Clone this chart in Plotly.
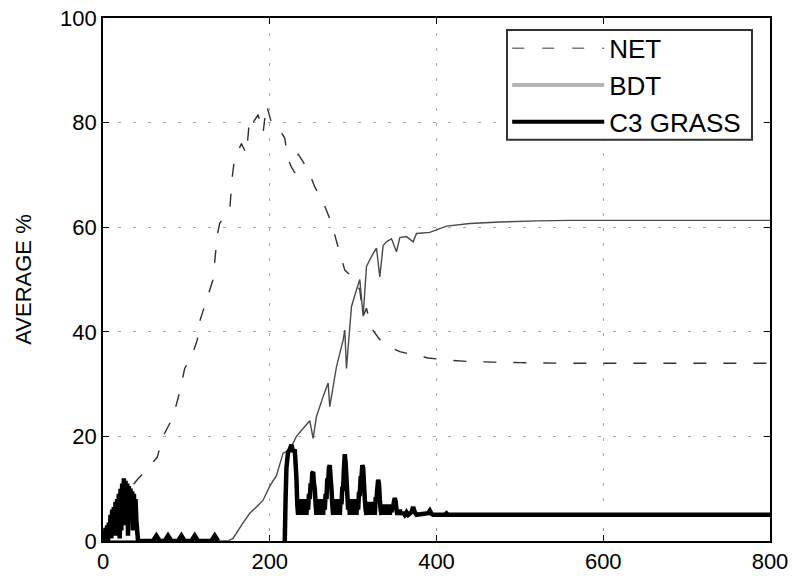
import plotly.graph_objects as go

# Needleleaf evergreen trees (NET)
net_x = [0, 10, 20, 30, 41, 52, 65, 72, 84, 92, 98, 107, 113, 116, 124,
         132, 137, 140, 146, 152, 155, 158, 162, 166, 172, 176, 180, 186, 190, 192,
         196, 202, 208, 212, 218, 222, 226, 230, 234, 240, 246, 254, 260, 266, 274,
         282, 290, 302, 308, 312, 316, 322, 332, 345, 356, 372, 390, 412, 440, 470,
         500, 550, 600, 650, 700, 750, 800]
net_y = [1, 4, 7, 9.5, 11.7, 13.6, 16, 20, 23.7, 28.5, 33, 35.6, 38.4, 42, 46,
         50, 58.5, 60.8, 62, 63.3, 69.6, 73.4, 74.5, 76, 74, 81, 80, 81.5, 79, 78,
         83.4, 80, 79.5, 78.6, 77, 73, 71.5, 70.4, 74, 72.5, 71, 67.7, 66, 64, 60.8,
         56.2, 51.8, 50, 48, 43, 44.5, 40.7, 38.5, 37, 36.2, 35.6, 35, 34.6, 34.3, 34.2,
         34.1, 34.0, 34.0, 34.0, 34.0, 34.0, 34.0]

# Broadleaf deciduous trees (BDT)
bdt_x = [0, 150, 156, 166, 176, 184, 192, 200, 208, 216, 224, 232, 240, 248, 252,
         256, 264, 270, 272, 280, 288, 290, 292, 298, 304, 308, 312, 316, 324, 328,
         332, 336, 340, 346, 352, 356, 364, 372, 376, 392, 412, 440, 476, 520, 560,
         600, 700, 800]
bdt_y = [0, 0, 0.5, 3, 5.3, 6.5, 7.8, 10.5, 12.5, 16.8, 17.4, 20, 21.5, 23, 19.6,
         23.8, 27.6, 30.2, 25.7, 33.3, 38.4, 40.3, 33, 44.8, 48, 50, 43, 52.5, 55, 56,
         50.5, 56.5, 57.2, 57.8, 55.3, 58, 58.2, 57.2, 58.8, 59, 60.2, 60.7, 61, 61.2, 61.3,
         61.3, 61.3, 61.3]

# C3 grass: early establishment burst, small flickers, then the oscillating phase
grass_early_x = [0, 1, 2, 3, 4, 5, 6, 7, 8, 9, 10, 11, 12, 13, 14, 15, 16, 17, 18, 19, 20,
                 21, 22, 23, 24, 25, 26, 27, 28, 29, 30, 31, 32, 33, 34, 35, 36, 37, 38, 39,
                 40, 41, 42, 60, 64, 68, 74, 78, 82, 90, 94, 98, 106, 110, 114, 130, 134, 138]
grass_early_y = [0, 1.5, 0, 2.5, 0.5, 3, 0, 3.5, 1, 5, 0.5, 6, 1, 6.5, 2, 7.5, 1, 8, 3, 9, 0.5,
                 10, 2, 11, 4, 12, 3, 11.5, 5, 11, 1, 10.5, 4, 10, 6, 9.5, 2, 9, 5, 8,
                 4, 2, 0, 0, 1, 0, 0, 1, 0, 0, 1, 0, 0, 1, 0, 0, 1, 0]

grass_late_x = [216, 218, 219, 220, 222, 224, 226, 228, 230, 232, 233,
                234, 235, 236, 237, 238, 239, 240, 241, 242, 243, 244, 245, 246, 247, 248, 249,
                250, 251, 252, 253, 254, 255, 256, 257, 258, 259, 260, 261, 262, 263, 264, 265,
                266, 267, 268, 269, 270, 271, 272, 273, 274, 275, 276, 277, 278, 279, 280, 281,
                282, 283, 284, 285, 286, 287, 288, 289, 290, 291, 292, 293, 294, 295, 296, 297,
                298, 299, 300, 301, 302, 303, 304, 305, 306, 307, 308, 309, 310, 311, 312, 313,
                314, 315, 316, 317, 318, 319, 320, 321, 322, 323, 324, 325, 326, 327, 328, 329,
                330, 331, 332, 333, 334, 335, 336, 337, 338, 339, 340, 341, 342, 343, 344, 345,
                346, 347, 348, 349, 350, 351, 352, 353, 354, 355, 356, 357, 358, 359, 360, 362,
                364, 366, 370, 372, 374, 376, 390, 392, 394, 396, 410, 412, 414, 800]
grass_late_y = [0, 0, 8, 14, 17, 17.5, 18.4, 17, 17.5, 12, 7,
                5, 8, 5, 8, 5, 8, 5, 8, 5, 8, 5, 8, 6, 9, 8, 11,
                10, 13, 13.2, 11, 10, 7, 5, 8, 5, 8, 5, 8, 5, 8, 5, 8,
                6, 9, 8, 12, 11, 14, 14.5, 12, 10, 7, 5, 8, 5, 8, 5, 8,
                5, 8, 5, 8, 7, 10, 10, 14, 16.6, 15, 12, 9, 6, 8, 5, 8,
                5, 8, 5, 8, 5, 8, 5, 8, 6, 9, 9, 12, 12, 14.5, 14, 11,
                8, 6, 5, 7.5, 5, 7.5, 5, 7.5, 5, 7.5, 5, 7.5, 5, 8, 8, 10,
                11.7, 11, 8, 6, 5, 7, 5, 7, 5, 7, 5, 7, 5, 7, 5, 6.5,
                5.5, 6.5, 6.5, 7.5, 8.2, 7.5, 6, 5, 6, 5, 6, 5, 5.5, 5, 5.5, 5,
                5.5, 5, 5.5, 6.5, 5.5, 5, 5.3, 5.8, 5.2, 5, 5, 5.3, 5, 5]

series_names = ["NET", "BDT", "C3 GRASS"]

fig = go.Figure()

# data lines (legend keys are added separately below)
fig.add_trace(go.Scatter(x=net_x, y=net_y, mode="lines", showlegend=False,
                         line=dict(color="#303030", width=1.4, dash="13px,17px",
                                   simplify=False)))
fig.add_trace(go.Scatter(x=bdt_x, y=bdt_y, mode="lines", showlegend=False,
                         line=dict(color="#4a4a4a", width=1.4, simplify=False)))
for gx, gy in ((grass_early_x, grass_early_y), (grass_late_x, grass_late_y)):
    fig.add_trace(go.Scatter(x=gx, y=gy, mode="lines", showlegend=False,
                             line=dict(color="#000000", width=4.5, simplify=False)))

# legend keys
legend_styles = [dict(color="#7a7a7a", width=1.5, dash="12px,18px"),
                 dict(color="#b4b4b4", width=4),
                 dict(color="#000000", width=4)]
for i, (name, style) in enumerate(zip(series_names, legend_styles)):
    fig.add_trace(go.Scatter(x=[None], y=[None], mode="lines", name=name,
                             legendgroup=f"g{i}", line=style))

font_family = "Liberation Sans, Arial, Helvetica, sans-serif"

axis_common = dict(
    showline=True, linecolor="black", linewidth=1.8, mirror="ticks",
    ticks="inside", ticklen=6, tickcolor="black", tickwidth=1,
    showgrid=True, gridcolor="#a8a8a8", griddash="3px,12px", gridwidth=1,
    zeroline=False, automargin=False,
    tickfont=dict(size=22, color="black", family=font_family),
)

fig.update_layout(
    width=793, height=580,
    margin=dict(l=103, r=23, t=18, b=39),
    paper_bgcolor="white", plot_bgcolor="white",
    font=dict(family=font_family, color="black"),
    xaxis=dict(range=[0, 800], dtick=200, tick0=0, **axis_common),
    yaxis=dict(range=[0, 100], dtick=20, tick0=0,
               title=dict(text="AVERAGE %", font=dict(size=22), standoff=22),
               **axis_common),
    legend=dict(x=0.606, y=0.987, xanchor="left", yanchor="top",
                bgcolor="rgba(0,0,0,0)", borderwidth=0,
                font=dict(size=26, color="black"), itemwidth=92,
                tracegroupgap=0),
    # framed white panel behind the legend entries
    shapes=[dict(type="rect", xref="paper", yref="paper",
                 x0=0.6057, x1=0.973, y0=0.767, y1=0.977,
                 fillcolor="white", line=dict(color="#333333", width=2),
                 layer="above")],
)

fig.write_html("out.html")
